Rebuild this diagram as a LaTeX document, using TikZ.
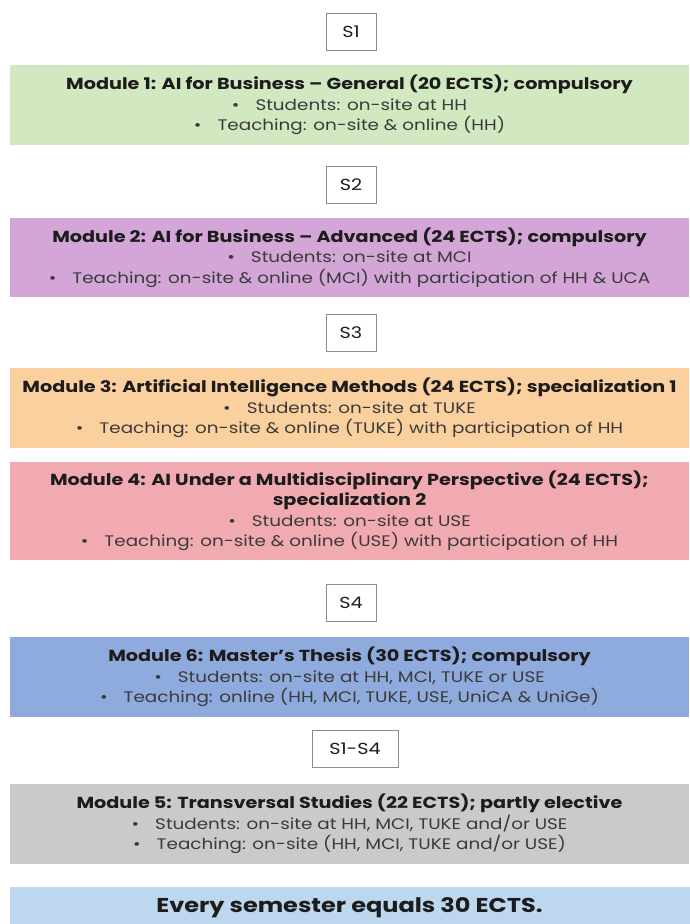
\documentclass[tikz,border=0pt]{standalone}
\usepackage{fontspec}
\setmainfont{Poppins}[FakeStretch=1.2]
\definecolor{semframe}{HTML}{8C8C8C}
\definecolor{titletext}{HTML}{1C1C1C}
\definecolor{bodytext}{HTML}{3A3A3A}
\definecolor{modgreen}{HTML}{D2E8C1}
\definecolor{modpurple}{HTML}{D4A6D8}
\definecolor{modorange}{HTML}{FBD09F}
\definecolor{modpink}{HTML}{F2AAB1}
\definecolor{modblue}{HTML}{8FAADC}
\definecolor{modgrey}{HTML}{CACACA}
\definecolor{notebar}{HTML}{BDD7EE}
\newcommand{\bitem}[1]{\textbullet\hspace{1.05em}#1}
\newcommand{\mtitle}[1]{\textcolor{titletext}{\fontsize{16}{20.5}\selectfont\bfseries #1}}
\begin{document}
\begin{tikzpicture}[x=1pt,y=-1pt,
  sembox/.style={draw=semframe, line width=0.9pt, fill=white, minimum height=37pt,
    inner sep=0pt, text=titletext, font=\fontsize{16}{18}\selectfont},
  modbox/.style={minimum width=679pt, inner sep=0pt, align=center, text=bodytext,
    font=\fontsize{15.3}{20.5}\selectfont}]
\useasboundingbox (0,0) rectangle (690,924);
\fill[white] (0,0) rectangle (690,924);

% semester markers
\node[sembox, minimum width=50pt] (s1) at (351,32) {S1};
\node[sembox, minimum width=50pt] (s2) at (351,185) {S2};
\node[sembox, minimum width=50pt] (s3) at (351,333) {S3};
\node[sembox, minimum width=50pt] (s4) at (351,603) {S4};
\node[sembox, minimum width=86pt] (s14) at (355,749) {S1-S4};

% modules
\node[modbox, fill=modgreen, minimum height=80pt] (m1) at (349.5,105)
  {\mtitle{Module 1: AI for Business – General (20 ECTS); compulsory}\\
   \bitem{Students: on-site at HH}\\
   \bitem{Teaching: on-site \& online (HH)}};

\node[modbox, fill=modpurple, minimum height=79pt] (m2) at (349.5,257.5)
  {\mtitle{Module 2: AI for Business – Advanced (24 ECTS); compulsory}\\
   \bitem{Students: on-site at MCI}\\
   \bitem{Teaching: on-site \& online (MCI) with participation of HH \& UCA}};

\node[modbox, fill=modorange, minimum height=80pt] (m3) at (349.5,408)
  {\mtitle{Module 3: Artificial Intelligence Methods (24 ECTS); specialization 1}\\
   \bitem{Students: on-site at TUKE}\\
   \bitem{Teaching: on-site \& online (TUKE) with participation of HH}};

\node[modbox, fill=modpink, minimum height=98pt] (m4) at (349.5,511)
  {\mtitle{Module 4: AI Under a Multidisciplinary Perspective (24 ECTS);}\\
   \mtitle{specialization 2}\\
   \bitem{Students: on-site at USE}\\
   \bitem{Teaching: on-site \& online (USE) with participation of HH}};

\node[modbox, fill=modblue, minimum height=80pt] (m6) at (349.5,677)
  {\mtitle{Module 6: Master's Thesis (30 ECTS); compulsory}\\
   \bitem{Students: on-site at HH, MCI, TUKE or USE}\\
   \bitem{Teaching: online (HH, MCI, TUKE, USE, UniCA \& UniGe)}};

\node[modbox, fill=modgrey, minimum height=80pt] (m5) at (349.5,824)
  {\mtitle{Module 5: Transversal Studies (22 ECTS); partly elective}\\
   \bitem{Students: on-site at HH, MCI, TUKE and/or USE}\\
   \bitem{Teaching: on-site (HH, MCI, TUKE and/or USE)}};

% closing note
\node[minimum width=680pt, minimum height=37pt, inner sep=0pt, fill=notebar,
  anchor=north] (note) at (349.5,887) {};
\node[text=titletext, font=\fontsize{20}{22}\selectfont\bfseries, inner sep=0pt]
  (notetext) at (349.5,908) {Every semester equals 30 ECTS.};
\end{tikzpicture}
\end{document}
